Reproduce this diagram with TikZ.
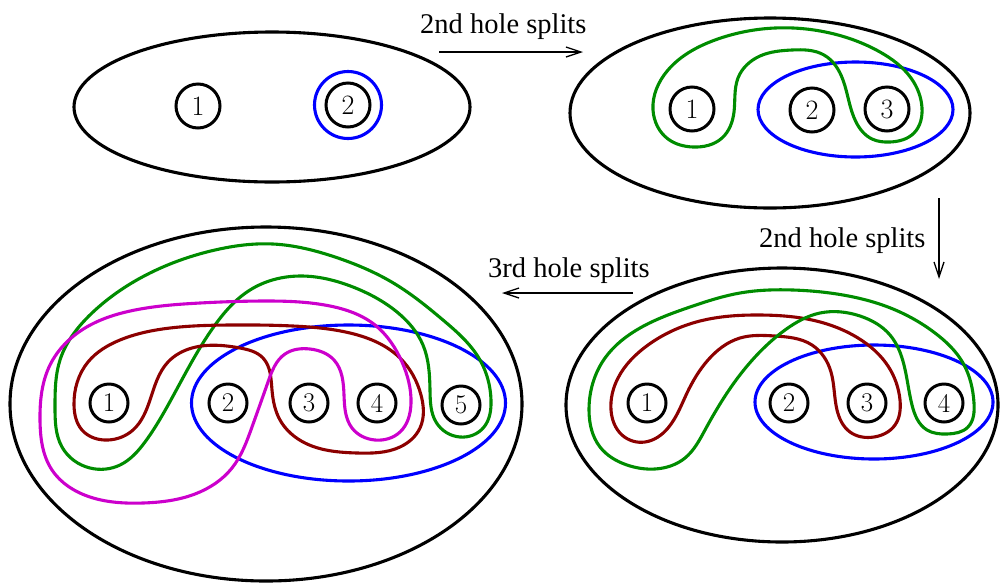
\documentclass[tikz,border=0pt]{standalone}
\usepackage{fontspec}
\newfontfamily\timesfont{Liberation Serif}
\usetikzlibrary{arrows.meta,hobby}
\definecolor{cgreen}{RGB}{0,140,0}
\definecolor{cred}{RGB}{140,0,0}
\definecolor{cmag}{RGB}{204,0,204}
\definecolor{cblue}{RGB}{0,0,255}
\tikzset{
  rim/.style={line width=3.1pt, draw=black},
  bigHole/.style={circle, draw, line width=3pt, minimum size=44pt, inner sep=0pt, font=\fontsize{28}{28}\selectfont},
  smallHole/.style={circle, draw, line width=3pt, minimum size=38pt, inner sep=0pt, font=\fontsize{27}{27}\selectfont},
  curve/.style={line width=3.1pt, use Hobby shortcut, closed=true},
  ring/.style={line width=3.1pt},
  lbl/.style={font=\timesfont\fontsize{28.5}{34}\selectfont, inner sep=0pt, anchor=base west},
  arr/.style={line width=1.3pt, -{Straight Barb[length=15pt,width=10pt,line width=1.3pt]}}
}
\begin{document}
\begin{tikzpicture}[x=1pt,y=-1pt]
\useasboundingbox (0,0) rectangle (1000,582);

% ---------- top left ----------
\draw[rim] (272,107) ellipse [x radius=198, y radius=75];
\node[bigHole] (tl1) at (198,106) {1};
\node[bigHole] (tl2) at (348,105) {2};
\draw[ring, cblue] (tl2.center) circle [radius=33.5];

% ---------- top right ----------
\draw[rim] (770,113) ellipse [x radius=200, y radius=95];
\node[bigHole] (tr1) at (692,109) {1};
\node[bigHole] (tr2) at (812,110) {2};
\node[bigHole] (tr3) at (887,109) {3};
\draw[ring, cblue] (855.5,109.5) ellipse [x radius=97.5, y radius=47.5];
\draw[curve, cgreen]
 (653,110) .. (668,139) .. (693,147) .. (722,138) .. (734,112) .. (738,78)
 .. (760,56) .. (792,50) .. (824,55) .. (843,80) .. (856,122) .. (872,139)
 .. (890,142) .. (914,133) .. (922,108) .. (911,78) .. (880,52) .. (830,33)
 .. (775,28) .. (715,40) .. (668,70);

% ---------- bottom right ----------
\draw[rim] (782,405) ellipse [x radius=216, y radius=137];
\node[smallHole] (br1) at (647,403) {1};
\node[smallHole] (br2) at (789,403) {2};
\node[smallHole] (br3) at (867,403) {3};
\node[smallHole] (br4) at (944,403) {4};
\draw[ring, cblue] (874,402) ellipse [x radius=119, y radius=57];
\draw[curve, cred]
 (611,410) .. (622,435) .. (645,442) .. (668,428) .. (687,393) .. (708,360)
 .. (740,338) .. (775,336) .. (812,345) .. (831,372) .. (837,410) .. (850,432)
 .. (874,437) .. (895,425) .. (900,400) .. (888,366) .. (858,338) .. (812,320)
 .. (760,315) .. (700,321) .. (648,345) .. (618,378);
\draw[curve, cgreen]
 (589,410) .. (600,447) .. (627,465) .. (655,469) .. (685,458) .. (705,430)
 .. (727,393) .. (755,357) .. (785,330) .. (820,313) .. (860,316) .. (890,335)
 .. (904,365) .. (912,405) .. (927,430) .. (947,434) .. (968,427) .. (974,403)
 .. (963,363) .. (935,333) .. (893,309) .. (843,295) .. (793,290) .. (740,293)
 .. (690,307) .. (640,328) .. (605,358);

% ---------- bottom left ----------
\draw[rim] (266,404) ellipse [x radius=256, y radius=177];
\node[smallHole] (bl1) at (109,403) {1};
\node[smallHole] (bl2) at (228,403) {2};
\node[smallHole] (bl3) at (309,403) {3};
\node[smallHole] (bl4) at (377,403) {4};
\node[smallHole] (bl5) at (461,405) {5};
\draw[ring, cblue] (348.5,403) ellipse [x radius=157, y radius=78];
\draw[curve, cgreen]
 (55,407) .. (62,447) .. (90,468) .. (120,465) .. (145,442) .. (167,407)
 .. (190,365) .. (215,325) .. (250,290) .. (300,276) .. (353,287) .. (397,312)
 .. (423,345) .. (430,390) .. (436,422) .. (460,437) .. (484,427) .. (491,400)
 .. (480,360) .. (443,320) .. (395,284) .. (335,257) .. (273,244) .. (215,250)
 .. (150,273) .. (92,313) .. (60,360);
\draw[curve, cred]
 (74,405) .. (82,430) .. (108,440) .. (133,430) .. (150,400) .. (168,362)
 .. (192,348) .. (240,348) .. (263,358) .. (272,390) .. (280,420) .. (305,443)
 .. (357,453) .. (400,447) .. (420,428) .. (421,395) .. (400,358) .. (350,333)
 .. (293,326) .. (230,325) .. (170,328) .. (120,340) .. (88,362);
\draw[curve, cmag]
 (40,420) .. (52,470) .. (90,497) .. (143,503) .. (195,494) .. (232,468)
 .. (252,427) .. (268,382) .. (285,354) .. (310,349) .. (334,360) .. (344,395)
 .. (352,428) .. (375,440) .. (400,432) .. (411,403) .. (402,362) .. (375,325)
 .. (330,306) .. (265,301) .. (200,303) .. (135,310) .. (85,328) .. (50,365);

% ---------- arrows and labels ----------
\node[lbl] (l1) at (420,33) {2nd hole splits};
\coordinate (a1s) at (439,52);
\coordinate (a1e) at (583,52);
\draw[arr] (a1s) -- (a1e);

\node[lbl] (l2) at (759,247) {2nd hole splits};
\coordinate (a2s) at (939,198);
\coordinate (a2e) at (939,279);
\draw[arr] (a2s) -- (a2e);

\node[lbl] (l3) at (488,277) {3rd hole splits};
\coordinate (a3s) at (633,293);
\coordinate (a3e) at (502,293);
\draw[arr] (a3s) -- (a3e);
\end{tikzpicture}
\end{document}
